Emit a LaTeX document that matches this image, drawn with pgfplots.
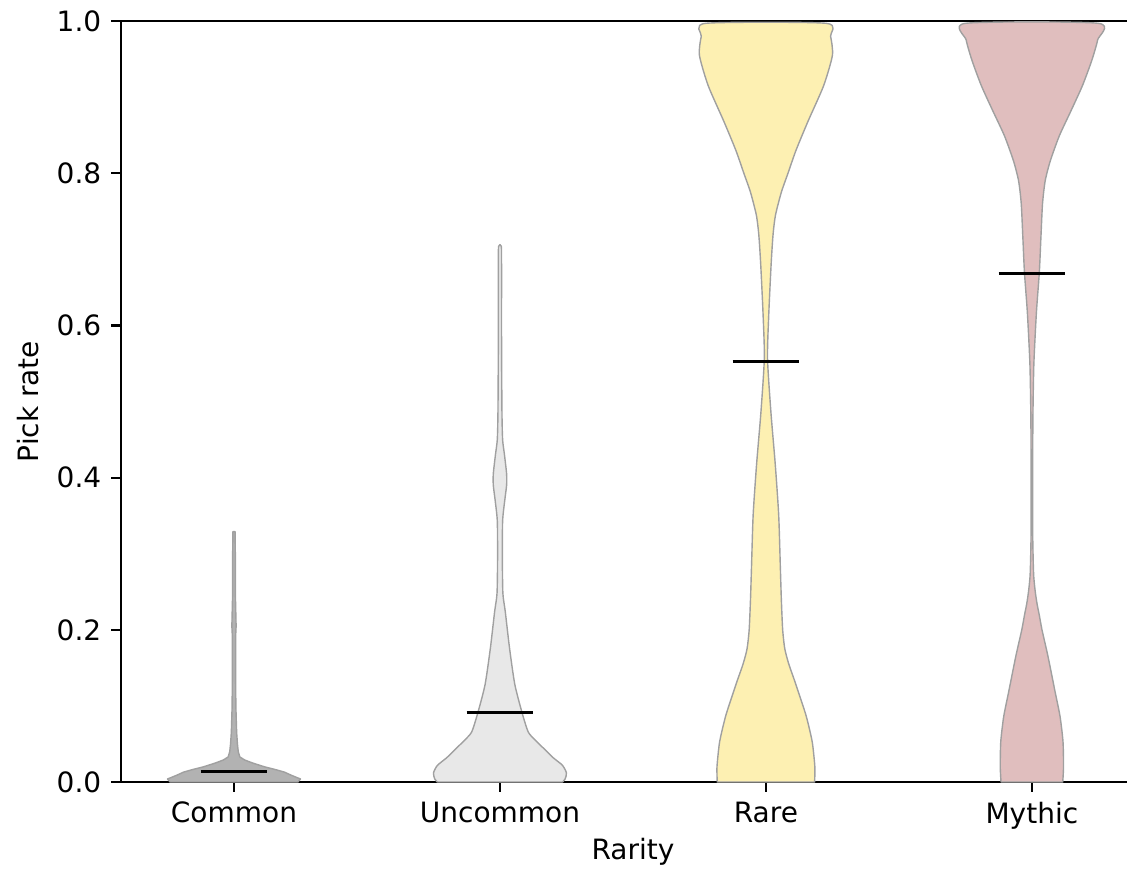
\documentclass[border=0pt]{standalone}
\usepackage{fontspec}
\setmainfont{DejaVu Sans}
\usepackage{pgfplots}
\usepackage{pgfplotstable}
\pgfplotsset{compat=1.18}

\definecolor{cCommon}{RGB}{178,178,178}
\definecolor{cUncommon}{RGB}{232,232,232}
\definecolor{cRare}{RGB}{253,240,178}
\definecolor{cMythic}{RGB}{224,190,190}
\definecolor{edgec}{RGB}{160,160,160}

% violin outlines: y = pick rate, d = signed half-width (x units),
% right side going up, then left side coming down
\pgfplotstableread{
y d
0.000 0.24
0.004 0.25
0.009 0.215
0.013 0.19
0.016 0.16
0.020 0.115
0.025 0.07
0.029 0.04
0.033 0.022
0.040 0.016
0.050 0.013
0.065 0.010
0.100 0.007
0.150 0.006
0.190 0.006
0.205 0.008
0.220 0.007
0.250 0.005
0.300 0.005
0.329 0.004
0.329 -0.004
0.300 -0.005
0.250 -0.005
0.220 -0.007
0.205 -0.008
0.190 -0.006
0.150 -0.006
0.100 -0.007
0.065 -0.010
0.050 -0.013
0.040 -0.016
0.033 -0.022
0.029 -0.04
0.025 -0.07
0.020 -0.115
0.016 -0.16
0.013 -0.19
0.009 -0.215
0.004 -0.25
0.000 -0.24
}\vcommon

\pgfplotstableread{
y d
0.000 0.235
0.004 0.245
0.012 0.25
0.022 0.235
0.032 0.20
0.044 0.165
0.056 0.13
0.066 0.106
0.090 0.084
0.128 0.056
0.176 0.036
0.224 0.020
0.248 0.011
0.295 0.009
0.343 0.010
0.370 0.018
0.390 0.025
0.405 0.025
0.430 0.017
0.450 0.010
0.487 0.0075
0.583 0.006
0.678 0.006
0.704 0.005
0.704 -0.005
0.678 -0.006
0.583 -0.006
0.487 -0.0075
0.450 -0.010
0.430 -0.017
0.405 -0.025
0.390 -0.025
0.370 -0.018
0.343 -0.010
0.295 -0.009
0.248 -0.011
0.224 -0.020
0.176 -0.036
0.128 -0.056
0.090 -0.084
0.066 -0.106
0.056 -0.13
0.044 -0.165
0.032 -0.20
0.022 -0.235
0.012 -0.25
0.004 -0.245
0.000 -0.235
}\vuncommon

\pgfplotstableread{
y d
0.000 0.183
0.020 0.184
0.053 0.174
0.086 0.152
0.110 0.130
0.133 0.108
0.155 0.086
0.175 0.071
0.200 0.063
0.240 0.058
0.285 0.054
0.351 0.048
0.418 0.035
0.485 0.019
0.557 0.006
0.617 0.011
0.683 0.020
0.720 0.027
0.745 0.036
0.775 0.058
0.800 0.083
0.830 0.113
0.868 0.158
0.915 0.217
0.955 0.250
0.980 0.243
0.997 0.225
0.997 -0.225
0.980 -0.243
0.955 -0.250
0.915 -0.217
0.868 -0.158
0.830 -0.113
0.800 -0.083
0.775 -0.058
0.745 -0.036
0.720 -0.027
0.683 -0.020
0.617 -0.011
0.557 -0.006
0.485 -0.019
0.418 -0.035
0.351 -0.048
0.285 -0.054
0.240 -0.058
0.200 -0.063
0.175 -0.071
0.155 -0.086
0.133 -0.108
0.110 -0.130
0.086 -0.152
0.053 -0.174
0.020 -0.184
0.000 -0.183
}\vrare

\pgfplotstableread{
y d
0.000 0.116
0.020 0.119
0.053 0.117
0.086 0.106
0.119 0.087
0.166 0.060
0.200 0.038
0.219 0.028
0.235 0.019
0.252 0.012
0.270 0.007
0.290 0.005
0.330 0.003
0.420 0.003
0.484 0.004
0.550 0.0075
0.617 0.017
0.670 0.028
0.716 0.034
0.760 0.040
0.790 0.050
0.816 0.069
0.849 0.103
0.882 0.147
0.915 0.190
0.948 0.225
0.975 0.247
0.997 0.249
0.997 -0.249
0.975 -0.247
0.948 -0.225
0.915 -0.190
0.882 -0.147
0.849 -0.103
0.816 -0.069
0.790 -0.050
0.760 -0.040
0.716 -0.034
0.670 -0.028
0.617 -0.017
0.550 -0.0075
0.484 -0.004
0.420 -0.003
0.330 -0.003
0.290 -0.005
0.270 -0.007
0.252 -0.012
0.235 -0.019
0.219 -0.028
0.200 -0.038
0.166 -0.060
0.119 -0.087
0.086 -0.106
0.053 -0.117
0.020 -0.119
0.000 -0.116
}\vmythic

\begin{document}
\begin{tikzpicture}
\begin{axis}[
  scale only axis,
  width=365.7pt, height=271.8pt,
  xmin=0.575, xmax=4.425, ymin=0, ymax=1,
  xtick={1,2,3,4},
  xticklabels={Common,Uncommon,Rare,Mythic},
  ytick={0,0.2,0.4,0.6,0.8,1},
  yticklabel style={/pgf/number format/.cd, fixed, fixed zerofill, precision=1},
  /pgf/number format/assume math mode=true,
  tick align=outside,
  major tick length=3.5pt,
  xtick pos=bottom, ytick pos=left,
  axis line style={line width=0.8pt},
  tick style={black, line width=0.8pt},
  every axis x label/.style={at={([yshift=-25pt]axis description cs:0.5,0)}, anchor=center},
  every axis y label/.style={at={([xshift=-33.2pt]axis description cs:0,0.5)}, anchor=center, rotate=90},
  xlabel={Rarity},
  ylabel={Pick rate},
  clip=false,
]
\addplot[fill=cCommon, draw=edgec, line width=0.5pt, line join=round] table[x expr=1+\thisrow{d}, y=y]{\vcommon} -- cycle;
\addplot[fill=cUncommon, draw=edgec, line width=0.5pt, line join=round, smooth, tension=0.4] table[x expr=2+\thisrow{d}, y=y]{\vuncommon} -- cycle;
\addplot[fill=cRare, draw=edgec, line width=0.5pt, line join=round, smooth, tension=0.4] table[x expr=3+\thisrow{d}, y=y]{\vrare} -- cycle;
\addplot[fill=cMythic, draw=edgec, line width=0.5pt, line join=round, smooth, tension=0.4] table[x expr=4+\thisrow{d}, y=y]{\vmythic} -- cycle;

\addplot[black, line width=1.1pt] coordinates {(0.875,0.0135) (1.125,0.0135)};
\addplot[black, line width=1.1pt] coordinates {(1.875,0.091) (2.125,0.091)};
\addplot[black, line width=1.1pt] coordinates {(2.875,0.552) (3.125,0.552)};
\addplot[black, line width=1.1pt] coordinates {(3.875,0.668) (4.125,0.668)};
\end{axis}
\pgfresetboundingbox
\path[use as bounding box] ([xshift=-43.2pt,yshift=-32.1pt]current axis.south west) rectangle ([xshift=359.3pt,yshift=279.3pt]current axis.south west);
\end{tikzpicture}
\end{document}
